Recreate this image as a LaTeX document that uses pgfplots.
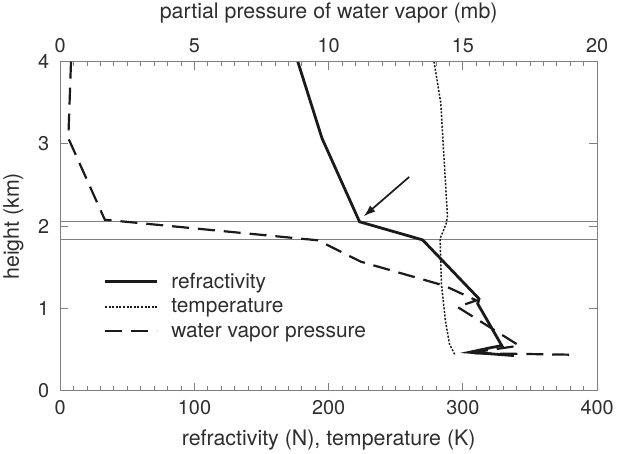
\documentclass[border=0pt]{standalone}
\usepackage{fontspec}
\setmainfont{TeX Gyre Heros}
\usepackage{pgfplots}
\pgfplotsset{compat=1.18}
\usetikzlibrary{arrows.meta}
\definecolor{ink}{HTML}{1A1A1A}
\definecolor{txt}{HTML}{2E2E2E}
\definecolor{framegray}{HTML}{7F7F7F}

\pgfplotsset{
  common/.style={
    scale only axis, width=538bp, height=330bp,
    ymin=0, ymax=4,
    font=\fontsize{20}{24}\selectfont,
    /pgf/number format/assume math mode=true,
    axis line style={framegray, line width=1bp},
    tick style={framegray, line width=1bp},
    major tick length=8bp, minor tick length=4.5bp,
    tick align=inside,
    tick label style={text=txt},
    xticklabel style={inner ysep=9bp},
    yticklabel style={inner xsep=11bp},
    label style={text=txt, font=\fontsize{21.5}{26}\selectfont},
  },
  refr/.style={ink, line width=2.8bp},
  temp/.style={ink, line width=1.5bp, dash pattern=on 2bp off 1.6bp},
  wvap/.style={ink, line width=2.2bp, dash pattern=on 17bp off 9bp},
}

\begin{document}
\begin{tikzpicture}
% bottom axis: refractivity and temperature
\begin{axis}[common,
    xmin=0, xmax=400, xtick={0,100,...,400}, minor x tick num=9,
    xtick pos=bottom, ytick={0,1,2,3,4}, ytick pos=both, yticklabel pos=left,
    xlabel={refractivity (N), temperature (K)},
    ylabel={height (km)},
    xlabel style={yshift=-3bp},
]
\addplot[framegray, line width=1bp] coordinates {(0,2.055) (400,2.055)};
\addplot[framegray, line width=1bp] coordinates {(0,1.835) (400,1.835)};

% refractivity
\addplot[refr] coordinates {
  (177,4.0) (195,3.07) (223,2.055) (270,1.835) (312,1.12) (311,1.06)
  (329,0.55) (322,0.53) (305,0.47) (338,0.43)
};
% temperature
\addplot[temp] coordinates {
  (278.5,4.0) (283.5,3.5) (288.5,2.12) (287.5,2.03) (283,1.85)
  (284,1.3) (287,0.85) (290,0.57) (294,0.44)
};

\draw[ink, line width=1.7bp, -{Latex[length=12bp,width=8bp]}]
  (axis cs:260,2.6) -- (axis cs:226,2.12);
\end{axis}

% top axis: water vapor pressure
\begin{axis}[common,
    xmin=0, xmax=20, xtick={0,5,...,20}, minor x tick num=9,
    axis x line*=top, axis y line=none,
    xlabel={partial pressure of water vapor (mb)},
    xlabel style={yshift=2bp},
    legend style={draw=none, fill=none, at={(axis description cs:0.075,0.37)},
                  anchor=north west, row sep=5bp, text=txt,
                  font=\fontsize{21}{25}\selectfont},
    legend cell align=left,
    legend image code/.code={\draw[#1] (0bp,0bp) -- (52bp,0bp); \path (63bp,0bp);},
]
\addlegendimage{refr}
\addlegendentry{refractivity}
\addlegendimage{temp}
\addlegendentry{temperature}
\addplot[wvap] coordinates {
  (0.4,4.0) (0.3,3.07) (1.66,2.08) (9.6,1.83) (11.2,1.57) (14.3,1.28)
  (15.5,1.10) (14.8,1.02) (17.1,0.55) (15.2,0.46) (19.1,0.44)
};
\addlegendentry{water vapor pressure}
\end{axis}
\end{tikzpicture}
\end{document}
